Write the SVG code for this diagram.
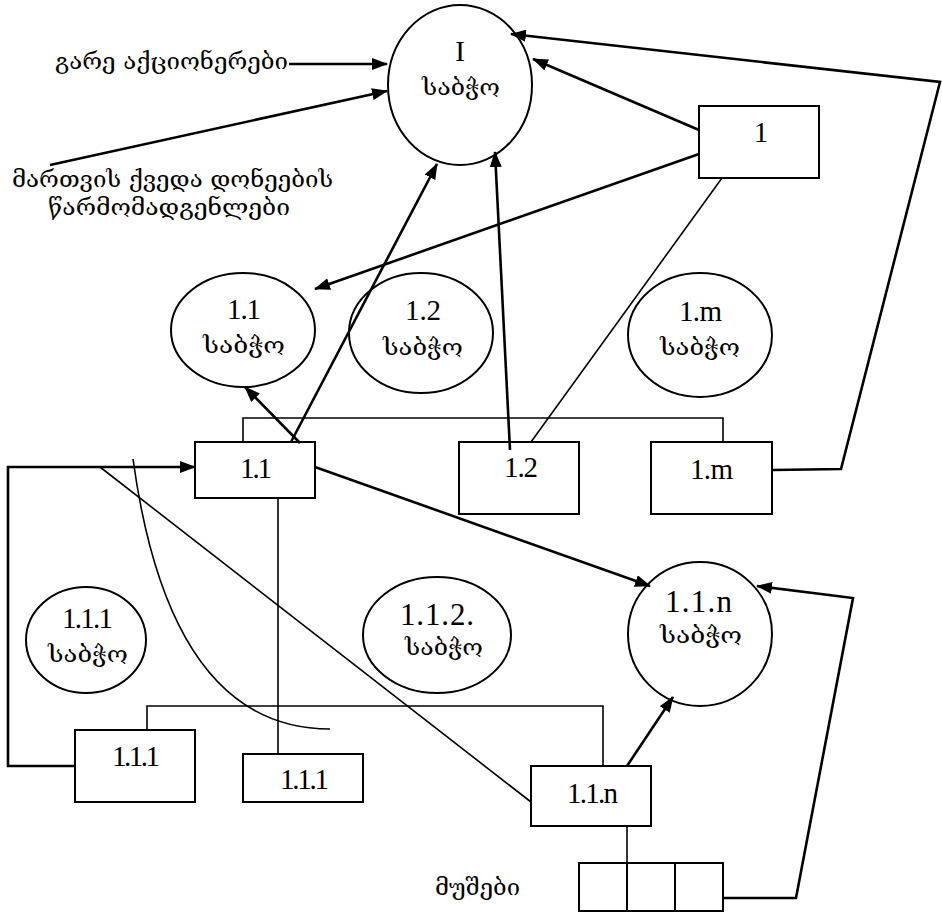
<svg xmlns="http://www.w3.org/2000/svg" width="942" height="912" viewBox="0 0 942 912">
<style>
.sh{fill:none;stroke:#000;stroke-width:2}
.num{font-family:"Liberation Serif","Times New Roman",serif;font-size:29px;fill:#000}
.big{font-size:31px}
.geo{font-family:"DejaVu Serif","DejaVu Sans",serif;font-size:22px;fill:#000}
.ln{fill:none;stroke:#000;stroke-width:1.6}
.ar{fill:none;stroke:#000;stroke-width:2.6;marker-end:url(#ah)}
</style>
<defs>
<marker id="ah" markerUnits="userSpaceOnUse" markerWidth="16" markerHeight="12" refX="15" refY="6" orient="auto">
<path d="M0,0 L16,6 L0,12 z" fill="#000"/>
</marker>
</defs>
<rect width="942" height="912" fill="#fff"/>
<g id="connectors">
<line class="ar" x1="289" y1="64" x2="387" y2="64"/>
<line class="ar" x1="50" y1="165" x2="387" y2="91"/>
<line class="ar" x1="699" y1="130" x2="533" y2="59"/>
<polyline class="ar" points="773,470 841,469 940,82 511,34"/>
<line class="ar" x1="699" y1="154" x2="315" y2="289"/>
<line class="ln" x1="722" y1="178" x2="531" y2="442"/>
<line class="ar" x1="510" y1="450" x2="495" y2="152"/>
<line class="ar" x1="291" y1="442" x2="437" y2="164"/>
<line class="ar" x1="300" y1="443" x2="245" y2="387"/>
<polyline class="ln" points="243,442 243,418 723,418 723,442"/>
<polyline class="ar" points="75,766 8,766 8,467 195,467"/>
<line class="ln" x1="100" y1="467" x2="531" y2="802"/>
<path class="ln" d="M133,459 Q170,729 330,729"/>
<line class="ln" x1="278" y1="498" x2="278" y2="754"/>
<polyline class="ln" points="147,730 147,706 603,706 603,766"/>
<line class="ar" x1="315" y1="467" x2="650" y2="586"/>
<line class="ar" x1="627" y1="766" x2="673" y2="697"/>
<line class="ln" x1="627" y1="826" x2="627" y2="863"/>
<polyline class="ar" points="723,898 796,898 853,598 757,586"/>
</g>
<g id="label-external">
<text class="geo" x="55" y="69" textLength="233" lengthAdjust="spacingAndGlyphs">გარე აქციონერები</text>
</g>
<g id="label-lower">
<text class="geo" x="12" y="187" textLength="321" lengthAdjust="spacingAndGlyphs">მართვის ქვედა დონეების</text>
<text class="geo" x="48" y="215" textLength="242" lengthAdjust="spacingAndGlyphs">წარმომადგენლები</text>
</g>
<g id="label-workers">
<text class="geo" x="435" y="895" textLength="85" lengthAdjust="spacingAndGlyphs">მუშები</text>
</g>
<g id="council-I">
<ellipse class="sh" cx="460" cy="85" rx="72" ry="80"/>
<text class="num" x="460" y="61" text-anchor="middle">I</text>
<text class="geo" x="422" y="95" textLength="78" lengthAdjust="spacingAndGlyphs">საბჭო</text>
</g>
<g id="box-1">
<rect class="sh" x="699" y="106" width="120" height="72"/>
<text class="num" x="761" y="142" text-anchor="middle">1</text>
</g>
<g id="council-1.1">
<ellipse class="sh" cx="243" cy="330" rx="72" ry="57"/>
<text class="num" x="227" y="319" textLength="34">1.1</text>
<text class="geo" x="203" y="353" textLength="82" lengthAdjust="spacingAndGlyphs">საბჭო</text>
</g>
<g id="council-1.2">
<ellipse class="sh" cx="421" cy="333" rx="72" ry="60"/>
<text class="num" x="405" y="320" textLength="36">1.2</text>
<text class="geo" x="383" y="355" textLength="80" lengthAdjust="spacingAndGlyphs">საბჭო</text>
</g>
<g id="council-1.m">
<ellipse class="sh" cx="700" cy="335" rx="72" ry="62"/>
<text class="num" x="679" y="321" textLength="43">1.m</text>
<text class="geo" x="660" y="355" textLength="80" lengthAdjust="spacingAndGlyphs">საბჭო</text>
</g>
<g id="box-1.1">
<rect class="sh" x="195" y="442" width="120" height="56"/>
<text class="num" x="240" y="478" textLength="32">1.1</text>
</g>
<g id="box-1.2">
<rect class="sh" x="459" y="442" width="120" height="72"/>
<text class="num" x="504" y="477" textLength="34">1.2</text>
</g>
<g id="box-1.m">
<rect class="sh" x="651" y="442" width="121" height="72"/>
<text class="num" x="690" y="479" textLength="43">1.m</text>
</g>
<g id="council-1.1.1">
<ellipse class="sh" cx="86" cy="640" rx="60" ry="53"/>
<text class="num" x="62" y="628" textLength="51">1.1.1</text>
<text class="geo" x="48" y="662" textLength="80" lengthAdjust="spacingAndGlyphs">საბჭო</text>
</g>
<g id="council-1.1.2">
<ellipse class="sh" cx="437" cy="635" rx="74" ry="58"/>
<text class="num big" x="400" y="625" textLength="74">1.1.2.</text>
<text class="geo" x="405" y="655" textLength="78" lengthAdjust="spacingAndGlyphs">საბჭო</text>
</g>
<g id="council-1.1.n">
<ellipse class="sh" cx="700" cy="634" rx="72" ry="72"/>
<text class="num big" x="665" y="612" textLength="67">1.1.n</text>
<text class="geo" x="660" y="643" textLength="82" lengthAdjust="spacingAndGlyphs">საბჭო</text>
</g>
<g id="box-1.1.1-a">
<rect class="sh" x="75" y="730" width="120" height="72"/>
<text class="num" x="112" y="766" textLength="48">1.1.1</text>
</g>
<g id="box-1.1.1-b">
<rect class="sh" x="243" y="754" width="120" height="48"/>
<text class="num" x="280" y="789" textLength="49">1.1.1</text>
</g>
<g id="box-1.1.n">
<rect class="sh" x="531" y="766" width="120" height="60"/>
<text class="num" x="567" y="803" textLength="51">1.1.n</text>
</g>
<g id="workers">
<rect class="sh" x="579" y="863" width="48" height="48"/>
<rect class="sh" x="627" y="863" width="48" height="48"/>
<rect class="sh" x="675" y="863" width="48" height="48"/>
</g>
</svg>
